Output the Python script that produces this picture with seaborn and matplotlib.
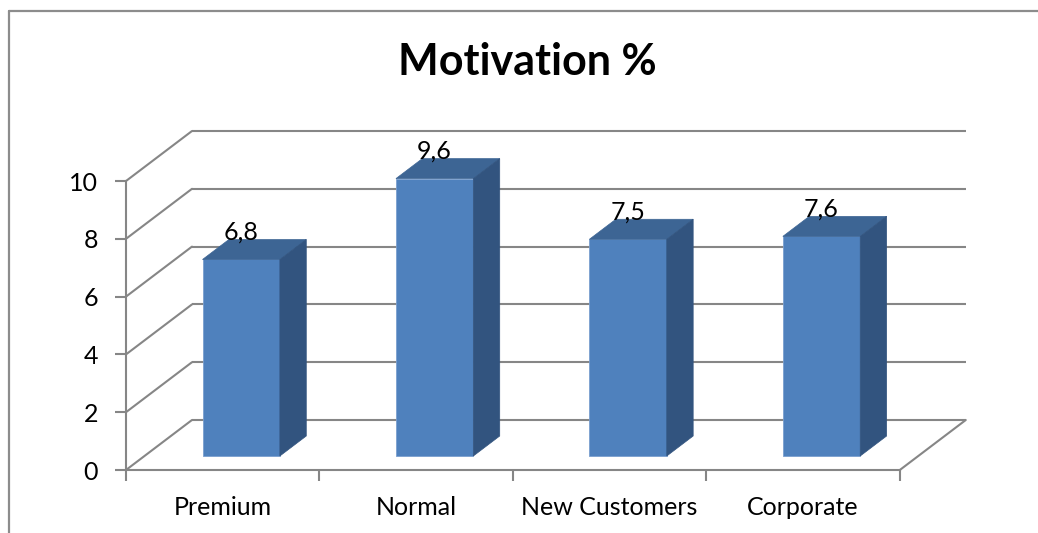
import numpy as np
import pandas as pd
import matplotlib
matplotlib.use("Agg")
import matplotlib.pyplot as plt
import seaborn as sns
from matplotlib.patches import Polygon
from matplotlib.lines import Line2D

categories = ["Premium", "Normal", "New Customers", "Corporate"]
values = [6.8, 9.6, 7.5, 7.6]
value_labels = ["6,8", "9,6", "7,5", "7,6"]
y_ticks = [0, 2, 4, 6, 8, 10]
y_tick_labels = ["0", "2", "4", "6", "8", "10"]
title = "Motivation %"

sns.set_theme(style="white")
plt.rcParams["font.family"] = ["Lato", "DejaVu Sans"]

W, H = 1038, 533
fig = plt.figure(figsize=(W / 100, H / 100), dpi=100)
ax = fig.add_axes([126 / W, 63 / H, 841.7 / W, 341 / H])

df = pd.DataFrame({"cat": categories, "val": values})
sns.barplot(data=df, x="cat", y="val", color="#4F81BD", width=0.40,
            saturation=1, ax=ax, zorder=3)

DX, DY = 0.341, 1.73     # depth vector (data units)
F0, F1 = 0.28, 0.68      # bar front/back depth fractions
grid_c = "#868686"
top_c = "#3D6594"
side_c = "#32547F"

# back wall gridlines + side wall diagonals
for t in y_ticks:
    ax.plot([-0.5 + DX, 3.5 + DX], [t + DY, t + DY], color=grid_c, lw=1.5,
            zorder=1, clip_on=False, solid_capstyle="butt")
    ax.plot([-0.5, -0.5 + DX], [t, t + DY], color=grid_c, lw=1.5,
            zorder=1, clip_on=False)
# floor right edge
ax.plot([3.5, 3.5 + DX], [0, DY], color=grid_c, lw=1.5, zorder=1, clip_on=False)

ddx, ddy = (F1 - F0) * DX, (F1 - F0) * DY
for p, lab in zip(list(ax.patches), value_labels):
    x0 = p.get_x() + F0 * DX
    y0 = F0 * DY
    w = p.get_width()
    h = p.get_height()
    p.set_x(x0)
    p.set_y(y0)
    p.set_edgecolor("#7a9fcf")
    p.set_linewidth(0.6)
    top = Polygon([(x0, y0 + h), (x0 + w, y0 + h), (x0 + w + ddx, y0 + h + ddy),
                   (x0 + ddx, y0 + h + ddy)], closed=True, facecolor=top_c,
                  edgecolor=top_c, lw=0.5, zorder=4)
    side = Polygon([(x0 + w, y0), (x0 + w + ddx, y0 + ddy),
                    (x0 + w + ddx, y0 + h + ddy), (x0 + w, y0 + h)], closed=True,
                   facecolor=side_c, edgecolor=side_c, lw=0.5, zorder=4)
    ax.add_patch(top)
    ax.add_patch(side)
    ax.text(x0 + w / 2, h + F1 * DY, lab, ha="center", va="baseline",
            fontsize=18, color="black", zorder=5)

ax.set_xlim(-0.5, 3.5 + DX + 0.01)
ax.set_ylim(0, 11.8)
ax.set_xlabel("")
ax.set_ylabel("")

for s in ["top", "right"]:
    ax.spines[s].set_visible(False)
for s in ["left", "bottom"]:
    ax.spines[s].set_visible(True)
    ax.spines[s].set_color(grid_c)
    ax.spines[s].set_linewidth(1.5)
ax.spines["left"].set_bounds(0, 10)
ax.spines["bottom"].set_bounds(-0.5, 3.5)

ax.set_yticks(y_ticks)
ax.set_yticklabels(y_tick_labels)
ax.set_xticks(range(len(categories)))
ax.set_xticklabels(categories)
ax.set_xticks([i - 0.5 for i in range(len(categories) + 1)], minor=True)
ax.tick_params(axis="y", left=True, length=8, width=1.5, color=grid_c,
               labelsize=18, labelcolor="black", pad=12)
ax.tick_params(axis="x", which="major", bottom=True, length=0, labelsize=18,
               labelcolor="black", pad=19)
ax.tick_params(axis="x", which="minor", bottom=True, length=8, width=1.5,
               color=grid_c)
ax.grid(False)
ax.set_facecolor("none")

fig.text(527 / W, 1 - 62 / H, title, ha="center", va="center",
         fontsize=31, fontweight="bold", color="black")

# chart area border
fig.add_artist(Line2D([9 / W, 1], [1 - 11 / H, 1 - 11 / H], color="#8c8c8c",
                      lw=1.6, transform=fig.transFigure))
fig.add_artist(Line2D([9 / W, 9 / W], [0, 1 - 11 / H], color="#8c8c8c",
                      lw=1.6, transform=fig.transFigure))

fig.savefig("out.png", dpi=100)
